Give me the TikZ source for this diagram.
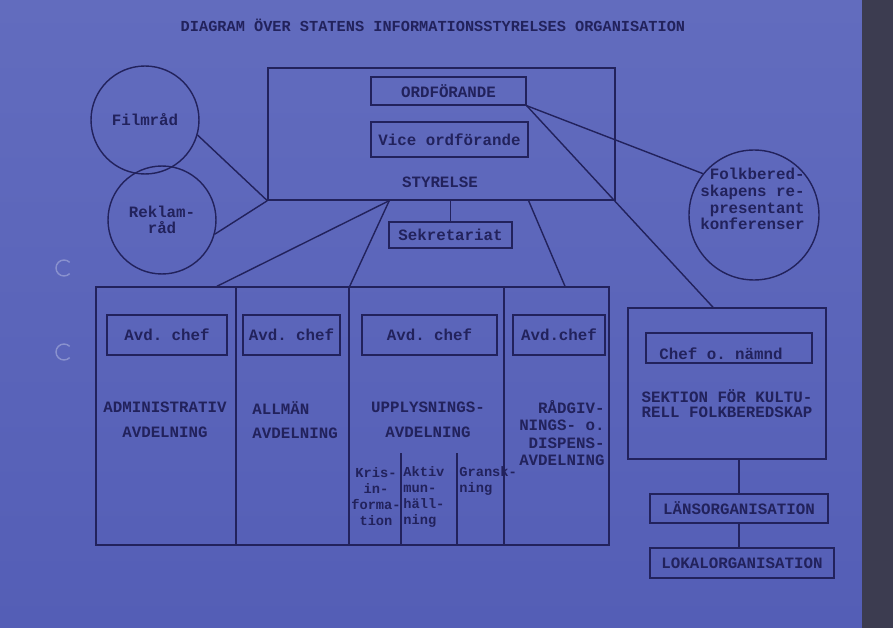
\documentclass[tikz,border=0pt]{standalone}
\usepackage{fontspec}
\setmonofont{Liberation Mono}
\usepackage{tikz}
\usetikzlibrary{positioning, calc}
\usepackage{xcolor}
\definecolor{paper}{RGB}{98,108,190}
\definecolor{paperlow}{RGB}{84,94,182}
\definecolor{ink}{RGB}{34,34,92}
\definecolor{spine}{RGB}{60,60,80}

\begin{document}
\begin{tikzpicture}[x=0.02cm, y=-0.02cm,
    every node/.style={font=\ttfamily\bfseries\fontsize{9}{10}\selectfont, text=ink, inner sep=0pt},
    box/.style={draw=ink, line width=0.8pt},
    council/.style={draw=ink, line width=0.8pt, circle},
    link/.style={draw=ink, line width=0.8pt}]
    % paper and photo edge
    \shade[top color=paper, bottom color=paperlow] (0,0) rectangle (893,628);
    \fill[spine] (862,0) rectangle (893,628);
    \draw[white!25!paper, line width=0.8pt] (64,268) ++(45:8) arc[start angle=45, end angle=315, radius=8];
    \draw[white!25!paper, line width=0.8pt] (64,352) ++(45:8) arc[start angle=45, end angle=315, radius=8];

    \node[font=\ttfamily\bfseries\fontsize{8.7}{10}\selectfont] (title) at (433,25)
        {DIAGRAM ÖVER STATENS INFORMATIONSSTYRELSES ORGANISATION};

    % board
    \node[box, minimum width=6.94cm, minimum height=2.64cm] (styrelse) at (441.5,134) {};
    \node[box, minimum width=3.1cm, minimum height=0.56cm] (ordf) at (448.5,91) {ORDFÖRANDE};
    \node[box, minimum width=3.14cm, minimum height=0.7cm] (vice) at (449.5,139.5) {Vice ordförande};
    \node (styrelsetext) at (440,182) {STYRELSE};
    \node[box, minimum width=2.46cm, minimum height=0.52cm] (sekr) at (450.5,235) {Sekretariat};

    % councils
    \node[council, minimum size=2.16cm] (film) at (145,120) {Filmråd};
    \node[council, minimum size=2.16cm, align=center, font=\ttfamily\bfseries\fontsize{9}{9.2}\selectfont]
        (reklam) at (162,220) {Reklam-\\råd};
    \node[council, minimum size=2.6cm] (folk) at (754,215) {};
    \node[align=right, font=\ttfamily\bfseries\fontsize{9}{9.6}\selectfont, anchor=east] (folktext) at (805,199)
        {Folkbered-\\skapens re-\\presentant\\konferenser};

    % departments
    \node[box, minimum width=2.8cm, minimum height=5.16cm] (adm) at (166,416) {};
    \node[box, minimum width=2.26cm, minimum height=5.16cm] (allm) at (292.5,416) {};
    \node[box, minimum width=3.1cm, minimum height=5.16cm] (upp) at (426.5,416) {};
    \node[box, minimum width=2.1cm, minimum height=5.16cm] (rad) at (556.5,416) {};

    \node[box, minimum width=2.4cm, minimum height=0.8cm] (chefA) at (167,335) {Avd. chef};
    \node[box, minimum width=1.94cm, minimum height=0.8cm] (chefB) at (291.5,335) {Avd. chef};
    \node[box, minimum width=2.7cm, minimum height=0.8cm] (chefC) at (429.5,335) {Avd. chef};
    \node[box, minimum width=1.84cm, minimum height=0.8cm] (chefD) at (559,335) {Avd.chef};

    \node[align=center, font=\ttfamily\bfseries\fontsize{9}{14}\selectfont] (admtext) at (165,420)
        {ADMINISTRATIV\\AVDELNING};
    \node[align=left, anchor=west, font=\ttfamily\bfseries\fontsize{9}{14}\selectfont] (allmtext) at (252,420)
        {ALLMÄN\\AVDELNING};
    \node[align=center, font=\ttfamily\bfseries\fontsize{9}{14}\selectfont] (upptext) at (428,420)
        {UPPLYSNINGS-\\AVDELNING};
    \node[align=right, anchor=east, font=\ttfamily\bfseries\fontsize{9}{10}\selectfont] (radtext) at (605,433)
        {RÅDGIV-\\NINGS- o.\\DISPENS-\\AVDELNING};

    % sub-units of the information department
    \draw[link] (401,453) -- (401,545);
    \draw[link] (457,453) -- (457,545);
    \node[align=center, font=\ttfamily\bfseries\fontsize{7.8}{9.1}\selectfont] (kris) at (376,497) {Kris-\\in-\\forma-\\tion};
    \node[align=left, anchor=west, font=\ttfamily\bfseries\fontsize{7.8}{9.1}\selectfont] (aktiv) at (403,497) {Aktiv\\mun-\\häll-\\ning};
    \node[align=left, anchor=west, font=\ttfamily\bfseries\fontsize{7.8}{9.1}\selectfont] (gransk) at (459,481) {Gransk-\\ning};

    % section and regional bodies
    \node[box, minimum width=3.96cm, minimum height=3.02cm] (section) at (727,383.5) {};
    \node[box, minimum width=3.32cm, minimum height=0.6cm] (chefN) at (729,348) {};
    \node (chefNtext) at (721,354) {Chef o. nämnd};
    \node[align=left, font=\ttfamily\bfseries\fontsize{9}{8.6}\selectfont] (sectiontext) at (727,404)
        {SEKTION FÖR KULTU-\\RELL FOLKBEREDSKAP};
    \node[box, minimum width=3.56cm, minimum height=0.58cm] (lans) at (739,508.5) {LÄNSORGANISATION};
    \node[box, minimum width=3.68cm, minimum height=0.6cm] (lokal) at (742,563) {LOKALORGANISATION};

    % connectors
    \draw[link] (film.-16) -- (styrelse.south west);
    \draw[link] (reklam.-15) -- (styrelse.south west);
    \draw[link] (ordf.south east) -- (folk.141);
    \draw[link] (ordf.south east) -- ($(section.north west)!0.43!(section.north east)$);
    \draw[link] (sekr.north |- styrelse.south) -- (sekr.north);
    \coordinate (split) at ($(styrelse.south west)!0.35!(styrelse.south east)$);
    \draw[link] (split) -- ($(adm.north west)!0.86!(adm.north east)$);
    \draw[link] (split) -- (allm.north east);
    \draw[link] ($(styrelse.south west)!0.75!(styrelse.south east)$) -- ($(rad.north west)!0.58!(rad.north east)$);
    \draw[link] (lans.north |- section.south) -- (lans.north);
    \draw[link] (lans.south) -- (lans.south |- lokal.north);
\end{tikzpicture}
\end{document}
